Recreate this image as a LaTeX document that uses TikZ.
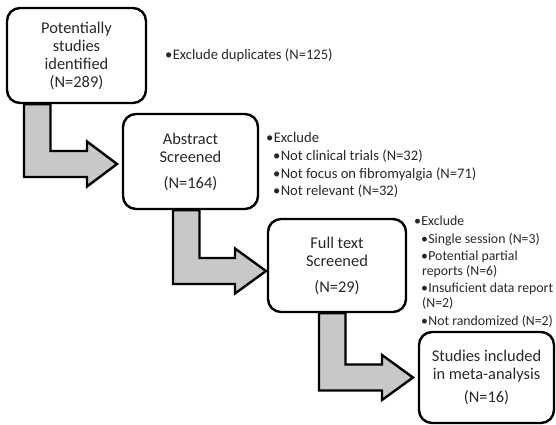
\documentclass[tikz,border=0pt]{standalone}
\usepackage{fontspec}
\setmainfont{Carlito}
\usetikzlibrary{calc,backgrounds}
\definecolor{arrowgray}{RGB}{200,200,200}
\definecolor{txt}{RGB}{40,40,40}
\tikzset{
  stagebox/.style={draw=black, line width=2.4pt, rounded corners=13pt, fill=white,
    align=center, inner sep=0pt, text=txt, font=\fontsize{16.4}{18}\selectfont},
  sidenote/.style={anchor=base west, inner sep=0pt, text=txt, font=\fontsize{14.6}{17}\selectfont},
  smallnote/.style={sidenote, font=\fontsize{13.8}{16}\selectfont},
  bendarrow/.style={draw=black, line width=2.4pt, fill=arrowgray, line join=miter},
}
\newcommand\bul{•\hspace{0.3pt}}
% #1 start node, #2 tip coordinate, #3 stem left x, #4 head base x
\newcommand\bentarrow[4]{%
  \draw[bendarrow] let \p1=(#1.south), \p2=(#2) in
    (#3pt,\y1) -- ({#3pt+26.5pt},\y1) -- ({#3pt+26.5pt},{\y2+13pt}) -- (#4pt,{\y2+13pt})
    -- (#4pt,{\y2+22.5pt}) -- (\x2,\y2) -- (#4pt,{\y2-22.5pt}) -- (#4pt,{\y2-13pt})
    -- (#3pt,{\y2-13pt}) -- cycle;}
\begin{document}
\begin{tikzpicture}[x=1pt,y=-1pt]
\useasboundingbox (0,0) rectangle (556,425);

\node[stagebox, minimum width=139pt, minimum height=95pt] (b1) at (76.5,55.5)
  {Potentially\\studies\\identified\\(N=289)};
\node[stagebox, minimum width=135pt, minimum height=95pt] (b2) at (190.5,161.5)
  {Abstract\\Screened\\[8pt](N=164)};
\node[stagebox, minimum width=138pt, minimum height=93pt] (b3) at (337,265.5)
  {Full text\\Screened\\[8pt](N=29)};
\node[stagebox, minimum width=135pt, minimum height=91pt] (b4) at (486.5,377.5)
  {Studies included\\in meta-analysis\\[5pt](N=16)};

\coordinate (t1) at (117,164);
\coordinate (t2) at (266,271);
\coordinate (t3) at (413,377.5);

\begin{scope}[on background layer]
\bentarrow{b1}{t1}{24}{87}
\bentarrow{b2}{t2}{173}{235}
\bentarrow{b3}{t3}{319}{382}
\end{scope}

% side notes
\node[sidenote] (n1) at (165,60) {\bul Exclude duplicates (N=125)};

\node[sidenote] (n2a) at (266,142) {\bul Exclude};
\node[sidenote] (n2b) at (273,160) {\bul Not clinical trials (N=32)};
\node[sidenote] (n2c) at (273,178) {\bul Not focus on fibromyalgia (N=71)};
\node[sidenote] (n2d) at (273,195) {\bul Not relevant (N=32)};

\node[smallnote] (n3a) at (414,225) {\bul Exclude};
\node[smallnote] (n3b) at (421,243) {\bul Single session (N=3)};
\node[smallnote] (n3c) at (421,260) {\bul Potential partial};
\node[smallnote] (n3d) at (422,275) {reports (N=6)};
\node[smallnote] (n3e) at (421,292) {\bul Insuficient data report};
\node[smallnote] (n3f) at (422,307) {(N=2)};
\node[smallnote] (n3g) at (421,325) {\bul Not randomized (N=2)};
\end{tikzpicture}
\end{document}
